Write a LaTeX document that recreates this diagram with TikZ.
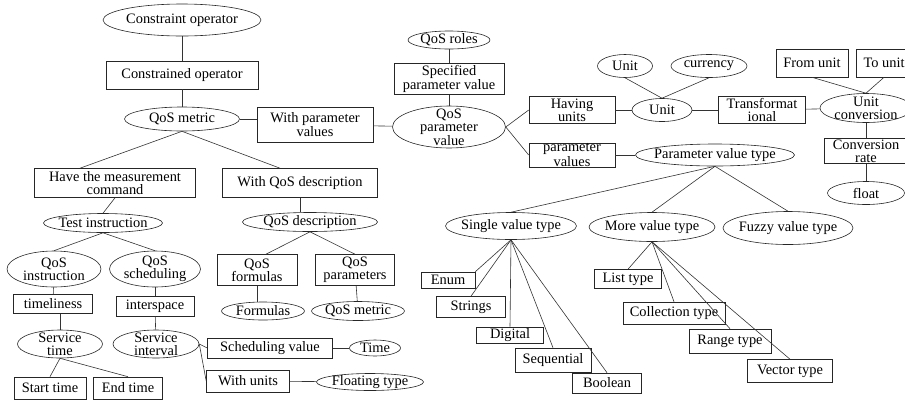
\documentclass[tikz,border=0pt]{standalone}
\usepackage{fontspec}
\setmainfont{Liberation Serif}
\usetikzlibrary{shapes.geometric}
\tikzset{
  box/.style={draw=black!85,line width=.6pt,rectangle,inner sep=0pt,align=center},
  oval/.style={draw=black!85,line width=.6pt,ellipse,inner xsep=-15pt,inner ysep=-15pt,align=center},
  link/.style={draw=black!80,line width=.6pt}
}
\begin{document}
\begin{tikzpicture}[x=1pt,y=-1pt,font=\fontsize{14.4}{13}\selectfont]
  \clip (0,0) rectangle (905,400);
  % left part
  \node[oval,minimum width=158pt,minimum height=32pt] (co) at (182,20) {Constraint operator};
  \node[box,minimum width=152pt,minimum height=28pt] (cop) at (182,75) {Constrained operator};
  \node[oval,minimum width=115pt,minimum height=24pt] (qm) at (182,119) {QoS metric};
  \node[box,minimum width=116pt,minimum height=35pt] (wpv) at (315,125) {With parameter\\values};
  \node[box,minimum width=161pt,minimum height=29pt] (hmc) at (115,183) {Have the measurement\\command};
  \node[box,minimum width=155pt,minimum height=29pt] (wqd) at (300,183) {With QoS description};
  \node[oval,minimum width=119pt,minimum height=19pt] (ti) at (103,223) {Test instruction};
  \node[oval,minimum width=94pt,minimum height=36pt] (qi) at (54,269) {QoS\\instruction};
  \node[oval,minimum width=91pt,minimum height=36pt] (qs) at (155,269) {QoS\\scheduling};
  \node[box,minimum width=79pt,minimum height=19pt] (tl) at (53,304) {timeliness};
  \node[box,minimum width=78pt,minimum height=20pt] (is) at (155,306) {interspace};
  \node[oval,minimum width=85pt,minimum height=28pt] (st) at (60,344) {Service\\time};
  \node[oval,minimum width=86pt,minimum height=28pt] (si) at (156,344) {Service\\interval};
  \node[box,minimum width=72pt,minimum height=22pt] (stt) at (50,388) {Start time};
  \node[box,minimum width=69pt,minimum height=22pt] (et) at (128,388) {End time};
  \node[box,minimum width=125pt,minimum height=20pt] (sv) at (270,348) {Scheduling value};
  \node[box,minimum width=83pt,minimum height=22pt] (wu) at (248,381) {With units};
  \node[oval,minimum width=51pt,minimum height=16pt] (tm) at (375,348) {Time};
  \node[oval,minimum width=107pt,minimum height=17pt] (ft) at (370,382) {Floating type};
  \node[oval,minimum width=135pt,minimum height=19pt] (qd) at (310,222) {QoS description};
  \node[box,minimum width=80pt,minimum height=31pt] (qf) at (257,270) {QoS\\formulas};
  \node[box,minimum width=79pt,minimum height=31pt] (qp) at (355,270) {QoS\\parameters};
  \node[oval,minimum width=83pt,minimum height=18pt] (fo) at (263,311) {Formulas};
  \node[oval,minimum width=93pt,minimum height=19pt] (qm2) at (358,311) {QoS metric};
  % middle part
  \node[oval,minimum width=82pt,minimum height=18pt] (qr) at (449,40) {QoS roles};
  \node[box,minimum width=110pt,minimum height=31pt] (spv) at (449,79) {Specified\\parameter value};
  \node[oval,minimum width=113pt,minimum height=42pt] (qpv) at (449,127) {QoS\\parameter\\value};
  \node[box,minimum width=86pt,minimum height=27pt] (hu) at (572,110) {Having\\units};
  \node[box,minimum width=86pt,minimum height=24pt] (pv) at (572,155) {parameter\\values};
  % right part
  \node[oval,minimum width=55pt,minimum height=23pt] (un1) at (625,66) {Unit};
  \node[oval,minimum width=76pt,minimum height=23pt] (cur) at (709,66) {currency};
  \node[oval,minimum width=60pt,minimum height=23pt] (un) at (662,110) {Unit};
  \node[box,minimum width=87pt,minimum height=27pt] (tf) at (762,110) {Transformat\\ional};
  \node[box,minimum width=72pt,minimum height=28pt] (fu) at (812,63) {From unit};
  \node[box,minimum width=56pt,minimum height=28pt] (tu) at (884,63) {To unit};
  \node[oval,minimum width=92pt,minimum height=29pt] (uc) at (866,108) {Unit\\conversion};
  \node[box,minimum width=84pt,minimum height=25pt] (cr) at (866,151) {Conversion\\rate};
  \node[oval,minimum width=77pt,minimum height=23pt] (fl) at (866,193) {float};
  \node[oval,minimum width=159pt,minimum height=22pt] (pvt) at (715,155) {Parameter value type};
  \node[oval,minimum width=131pt,minimum height=27pt] (svt) at (511,226) {Single value type};
  \node[oval,minimum width=126pt,minimum height=29pt] (mvt) at (652,227) {More value type};
  \node[oval,minimum width=130pt,minimum height=33pt] (fvt) at (788,228) {Fuzzy value type};
  \node[box,minimum width=54pt,minimum height=16pt] (en) at (448,280) {Enum};
  \node[box,minimum width=69pt,minimum height=21pt] (str) at (471,307) {Strings};
  \node[box,minimum width=67pt,minimum height=16pt] (dg) at (510,335) {Digital};
  \node[box,minimum width=76pt,minimum height=24pt] (sq) at (553,360) {Sequential};
  \node[box,minimum width=69pt,minimum height=20pt] (bo) at (607,383) {Boolean};
  \node[box,minimum width=67pt,minimum height=19pt] (lt) at (628,279) {List type};
  \node[box,minimum width=102pt,minimum height=22pt] (ct) at (674,313) {Collection type};
  \node[box,minimum width=82pt,minimum height=24pt] (rt) at (730,341) {Range type};
  \node[box,minimum width=85pt,minimum height=23pt] (vt) at (790,371) {Vector type};
  % connectors
  \draw[link] (co) -- (cop);
  \draw[link] (cop) -- (qm);
  \draw[link] (qm.east) -- (qm.east -| wpv.west);
  \draw[link] (qm.south) -- ([xshift=-35pt]hmc.north);
  \draw[link] (qm.south) -- ([xshift=-20pt]wqd.north);
  \draw[link] (hmc.south) -- (ti.north);
  \draw[link] (ti.south) -- (qi.north);
  \draw[link] (ti.south) -- (qs.north);
  \draw[link] (qi) -- (tl);
  \draw[link] (tl.south -| st.north) -- (st.north);
  \draw[link] (qs) -- (is);
  \draw[link] (is) -- (si);
  \draw[link] (st.south) -- (stt.north);
  \draw[link] (st.south) -- (et.north);
  \draw[link] (si.east) -- (sv.west);
  \draw[link] (si.east) -- (wu.west);
  \draw[link] (sv) -- (tm);
  \draw[link] (wu) -- (ft);
  \draw[link] (wqd.south) -- (wqd.south |- qd.north);
  \draw[link] (qd.south) -- ([xshift=9pt]qf.north);
  \draw[link] (qd.south) -- (qp.north);
  \draw[link] (qf.south) -- (qf.south |- fo.north);
  \draw[link] (qp) -- (qm2);
  \draw[link] (wpv) -- (qpv);
  \draw[link] (qr) -- (spv);
  \draw[link] (spv) -- (qpv);
  \draw[link] (qpv.east) -- (hu.west);
  \draw[link] (qpv.east) -- (pv.west);
  \draw[link] (hu) -- (un);
  \draw[link] (un.north) -- (un1.south);
  \draw[link] (un.north) -- (cur.south);
  \draw[link] (un) -- (tf);
  \draw[link] (tf) -- (uc);
  \draw[link] (fu.south) -- (uc.north);
  \draw[link] (tu.south) -- (uc.north);
  \draw[link] (uc) -- (cr);
  \draw[link] (cr) -- (fl);
  \draw[link] (pv) -- (pvt);
  \foreach \t in {svt,mvt,fvt}
    \draw[link] (pvt.south) -- (\t.north);
  \draw[link] (svt.south) -- (en.north east);
  \foreach \t in {str,dg,sq,bo}
    \draw[link] (svt.south) -- (\t.north);
  \foreach \t in {lt,ct,rt,vt}
    \draw[link] (mvt.south) -- (\t.north);
\end{tikzpicture}
\end{document}
